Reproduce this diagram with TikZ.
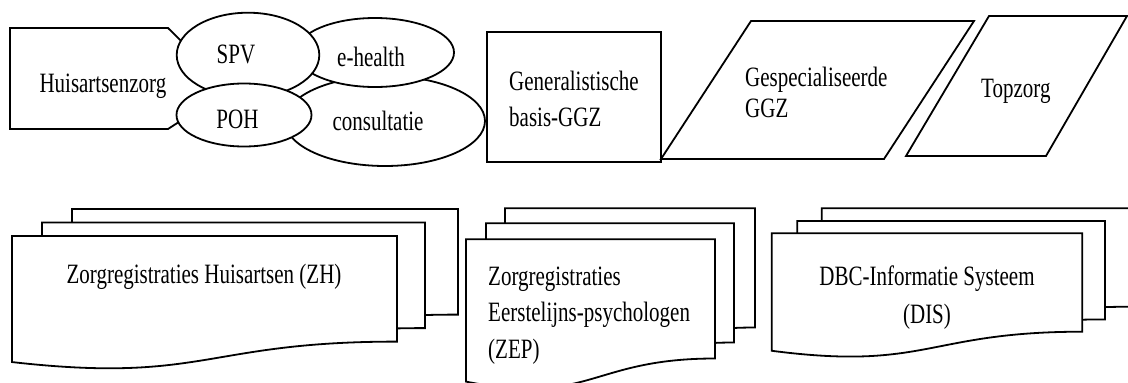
\documentclass[tikz,border=0pt]{standalone}
\usepackage{fontspec}
\setmainfont[FakeStretch=0.75]{Liberation Serif}
\usetikzlibrary{shapes.geometric}
\newcommand\docshp[4]{%
 \pgfmathsetmacro\dsXa{#1+#3}\pgfmathsetmacro\dsXm{#1+0.5*#3}%
 \pgfmathsetmacro\dsYr{#2+0.8*#4}\pgfmathsetmacro\dsYc{#2+1.12*#4}\pgfmathsetmacro\dsYl{#2+0.955*#4}%
 \draw[ln] (#1,#2) -- (\dsXa,#2) -- (\dsXa,\dsYr) .. controls (\dsXm,\dsYr) and (\dsXm,\dsYc) .. (#1,\dsYl) -- cycle;}
\begin{document}
\begin{tikzpicture}[x=1pt,y=-1pt,
  ln/.style={draw=black,line width=1.8pt,fill=white,line join=miter},
  ell/.style={ellipse,ln,inner sep=0pt,outer sep=0pt},
  txt/.style={inner sep=0pt,font=\fontsize{28}{37}\selectfont,text=black}]
\useasboundingbox (0,0) rectangle (1128,383);
\fill[white] (0,0) rectangle (1128,383);

% --- top row ---
\draw[ln] (10,28) -- (168,28) -- (230,89) -- (168,129) -- (10,129) -- cycle;
\node[ell,minimum width=200pt,minimum height=90pt] (cons) at (385,121) {};
\node[ell,minimum width=158pt,minimum height=69pt] (ehealth) at (375,52.5) {};
\node[ell,minimum width=142.6pt,minimum height=84.6pt] (spv) at (248,55) {};
\node[ell,minimum width=135pt,minimum height=63pt] (poh) at (244,115) {};

\node[txt,anchor=base west] (thuis) at (39.3,92.7) {Huisartsenzorg};
\node[txt,anchor=base] (tspv) at (236,63.3) {SPV};
\node[txt,anchor=base] (teh) at (371,66.7) {e-health};
\node[txt,anchor=base] (tpoh) at (237.5,128.3) {POH};
\node[txt,anchor=base] (tcons) at (378,130) {consultatie};

\draw[ln] (487,32) rectangle (661,162);
\node[txt,anchor=base west] (tgen1) at (509,90.7) {Generalistische};
\node[txt,anchor=base west] (tgen2) at (509,126.7) {basis-GGZ};

\draw[ln] (661,159) -- (751,21) -- (974,21) -- (884,159) -- cycle;
\node[txt,anchor=base west] (tgsp1) at (745,86) {Gespecialiseerde};
\node[txt,anchor=base west] (tgsp2) at (745,117.3) {GGZ};

\draw[ln] (906,156) -- (989,16) -- (1127,16) -- (1046,156) -- cycle;
\node[txt,anchor=base west] (ttop) at (981,97.3) {Topzorg};

% --- bottom row ---
\docshp{72}{209}{386}{132}
\docshp{42}{222.5}{383}{132}
\docshp{12}{236}{385}{132}
\node[txt,anchor=base] (tzh) at (204,283) {Zorgregistraties Huisartsen (ZH)};

\docshp{505}{208.3}{250}{149}
\docshp{486}{223.3}{248}{149}
\docshp{466}{239.3}{249}{149}
\node[txt,anchor=base west] (tzep1) at (488,285) {Zorgregistraties};
\node[txt,anchor=base west] (tzep2) at (488,321.7) {Eerstelijns-psychologen};
\node[txt,anchor=base west] (tzep3) at (488,358.3) {(ZEP)};

\docshp{821.7}{208.3}{310}{123}
\docshp{797.3}{221}{307.7}{123}
\docshp{771.7}{233.3}{310.6}{123}
\node[txt,anchor=base] (tdis1) at (927,285) {DBC-Informatie Systeem};
\node[txt,anchor=base] (tdis2) at (927,323) {(DIS)};
\end{tikzpicture}
\end{document}
